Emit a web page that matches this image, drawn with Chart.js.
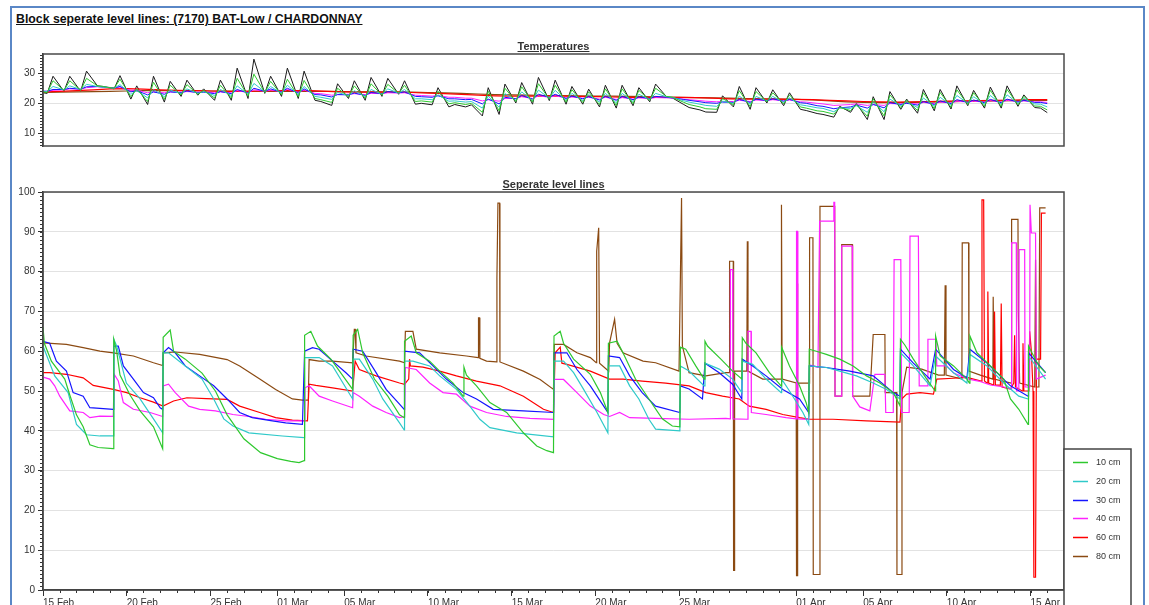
<!DOCTYPE html>
<html><head><meta charset="utf-8">
<script src="https://cdn.jsdelivr.net/npm/chart.js@4.4.1/dist/chart.umd.min.js"></script>
<style>
html,body{margin:0;padding:0;background:#fff;width:1149px;height:605px;overflow:hidden;font-family:"Liberation Sans",Arial,sans-serif;}
#frame{position:absolute;left:10px;top:6px;width:1135px;height:700px;border:2px solid #5a87c6;box-sizing:border-box;}
.ttl{position:absolute;font-weight:bold;text-decoration:underline;color:#111;z-index:3;white-space:nowrap;}
#mainTitle{left:16px;top:12px;font-size:12.3px;line-height:14px;}
#tTitle{left:43px;width:1021px;top:40px;text-align:center;font-size:11px;line-height:12px;color:#333;}
#lTitle{left:43px;width:1021px;top:178px;text-align:center;font-size:11px;line-height:12px;color:#333;}
canvas{position:absolute;left:0;}
#tempCanvas{top:40px;}
#levelCanvas{top:180px;}
</style></head>
<body>
<div id="frame"></div>
<canvas id="tempCanvas" width="1149" height="150"></canvas>
<canvas id="levelCanvas" width="1149" height="440"></canvas>
<div id="mainTitle" class="ttl">Block seperate level lines: (7170) BAT-Low / CHARDONNAY</div>
<div id="tTitle" class="ttl">Temperatures</div>
<div id="lTitle" class="ttl">Seperate level lines</div>
<script>
// ---- x axis (days since 15 Feb) ----
const tickDays = [0, 5, 10, 14, 18, 23, 28, 33, 38, 45, 49, 54, 59];
const tickLabels = ['15 Feb','20 Feb','25 Feb','01 Mar','05 Mar','10 Mar','15 Mar','20 Mar','25 Mar','01 Apr','05 Apr','10 Apr','15 Apr'];
const seriesNames = ['10 cm','20 cm','30 cm','40 cm','60 cm','80 cm'];
const seriesColors = ['#2ec82e','#2fc9c9','#1515ff','#ff22ff','#ff0000','#8b4a12'];
const tempTicks = [10, 20, 30];
const levelTicks = [0,10,20,30,40,50,60,70,80,90,100];

// ---- Temperatures: start, then (morning low, afternoon high) per day, then end ----
const tempAir = [23.5,
 23.3,29.0, 24.0,29.0, 24.0,30.7, 25.8,25.6, 24.8,29.2, 21.4,25.8, 19.6,29.0, 20.4,27.3, 22.3,27.7, 22.7,24.8,
 21.0,27.7, 21.0,31.7, 21.6,34.7, 23.3,29.0, 22.3,31.7, 21.6,30.7, 21.0,20.6, 19.3,26.5, 21.6,27.5, 21.0,28.6,
 22.3,28.3, 23.0,27.5, 19.7,20.0, 19.5,25.2, 18.8,19.6, 18.8,19.5, 15.8,25.2, 16.3,26.4, 20.1,26.9, 19.7,28.6,
 20.9,27.7, 19.7,25.6, 19.7,24.7, 18.8,26.0, 18.4,26.0, 19.2,25.2, 20.5,26.4, 22.2,21.8, 19.7,18.6, 17.8,17.1,
 17.0,22.5, 18.8,25.6, 18.0,25.2, 20.1,24.5, 19.2,23.5, 18.0,17.6, 16.6,16.3, 15.4,19.0, 17.0,20.0, 14.6,22.2,
 14.6,23.9, 18.0,21.4, 16.7,24.6, 17.5,24.6, 18.1,25.8, 19.2,24.3, 18.4,25.4, 18.4,25.8, 19.0,22.8, 18.6,18.4,
 16.9];
const temp10 = [23.8,
 23.6,27.5, 24.3,27.5, 24.3,28.3, 25.8,25.6, 25.0,28.0, 22.2,24.8, 20.6,27.0, 21.3,26.0, 22.8,26.2, 23.0,24.3,
 21.8,26.0, 21.8,28.3, 22.4,29.7, 23.6,27.3, 22.8,28.0, 22.2,27.6, 21.6,21.2, 20.3,25.0, 22.2,25.8, 21.7,26.5,
 22.7,26.3, 23.3,26.0, 20.6,20.8, 20.4,24.0, 19.8,20.2, 19.6,20.0, 17.0,24.0, 17.5,25.0, 20.6,25.5, 20.4,26.5,
 21.4,26.0, 20.4,24.5, 20.3,23.8, 19.6,24.8, 19.3,24.8, 19.9,24.3, 21.0,25.0, 22.3,22.0, 20.4,19.6, 18.8,18.2,
 18.0,21.6, 19.5,24.2, 18.9,23.9, 20.5,23.5, 19.8,22.8, 18.8,18.4, 17.5,17.3, 16.4,18.6, 17.6,19.6, 15.7,21.5,
 15.8,22.8, 18.6,21.0, 17.6,23.5, 18.2,23.6, 18.7,24.5, 19.6,23.5, 19.0,24.3, 19.0,24.6, 19.5,22.3, 19.1,19.0,
 17.8];
const temp20 = [24.0,
 23.9,25.6, 24.5,25.8, 24.6,26.3, 25.6,25.4, 25.0,26.2, 23.0,24.2, 21.8,24.6, 22.2,24.4, 23.2,24.8, 23.3,23.9,
 22.6,24.6, 22.6,25.8, 23.0,26.6, 23.9,25.6, 23.3,26.0, 22.9,25.6, 22.3,22.0, 21.3,23.6, 22.6,24.2, 22.3,24.6,
 23.0,24.8, 23.4,24.6, 21.5,21.5, 21.2,22.8, 20.7,20.8, 20.4,20.6, 18.4,22.4, 18.7,23.2, 21.0,23.8, 20.9,24.4,
 21.7,24.3, 21.0,23.3, 20.9,22.9, 20.4,23.3, 20.2,23.3, 20.6,23.0, 21.3,23.3, 22.2,22.0, 20.9,20.4, 19.7,19.3,
 19.0,20.7, 20.0,22.4, 19.7,22.3, 20.8,22.3, 20.3,21.8, 19.5,19.2, 18.5,18.3, 17.2,18.5, 18.3,19.2, 17.0,20.5,
 17.2,21.4, 19.2,20.5, 18.6,21.8, 19.0,22.0, 19.4,22.6, 20.0,22.2, 19.7,22.6, 19.7,22.8, 20.0,21.6, 19.8,19.7,
 18.8];
const temp30 = [24.0,
 24.0,24.6, 24.6,25.0, 24.7,25.5, 25.6,25.4, 25.1,25.6, 23.8,24.2, 22.8,23.8, 23.0,23.8, 23.5,24.1, 23.5,23.7,
 23.2,23.9, 23.2,24.6, 23.4,25.0, 24.0,24.8, 23.7,25.0, 23.4,24.8, 22.9,22.8, 22.1,22.9, 22.8,23.4, 22.6,23.6,
 23.2,23.9, 23.5,23.8, 22.3,22.2, 22.0,22.5, 21.5,21.5, 21.2,21.3, 19.8,21.4, 19.8,22.0, 21.5,22.6, 21.4,23.0,
 22.0,23.0, 21.6,22.4, 21.5,22.2, 21.1,22.3, 21.0,22.3, 21.2,22.1, 21.6,22.3, 22.0,21.8, 21.3,21.0, 20.5,20.2,
 20.0,20.4, 20.3,21.3, 20.3,21.4, 20.9,21.5, 20.7,21.3, 20.2,20.0, 19.2,19.0, 18.2,18.5, 18.8,19.4, 18.4,19.6,
 18.5,20.2, 19.6,20.0, 19.4,20.6, 19.6,20.8, 19.9,21.2, 20.3,21.1, 20.2,21.3, 20.2,21.4, 20.4,21.0, 20.3,20.3,
 19.9];
const temp40 = [24.0,
 24.0,24.3, 24.5,24.8, 24.7,25.2, 25.5,25.4, 25.2,25.4, 24.3,24.4, 23.5,23.8, 23.5,23.8, 23.7,23.9, 23.7,23.8,
 23.5,23.8, 23.5,24.2, 23.6,24.5, 24.0,24.4, 23.9,24.6, 23.7,24.4, 23.3,23.2, 22.7,22.9, 23.0,23.2, 22.9,23.3,
 23.2,23.5, 23.4,23.5, 22.7,22.6, 22.4,22.6, 22.0,22.0, 21.7,21.7, 20.8,21.2, 20.7,21.6, 21.6,22.2, 21.6,22.5,
 22.0,22.5, 21.8,22.1, 21.7,22.0, 21.4,22.0, 21.3,21.9, 21.4,21.8, 21.6,21.9, 21.8,21.7, 21.4,21.2, 20.9,20.7,
 20.5,20.6, 20.6,21.0, 20.6,21.1, 20.9,21.2, 20.8,21.1, 20.5,20.4, 20.0,19.8, 19.3,19.4, 19.6,19.8, 19.3,19.6,
 19.3,19.9, 19.8,20.0, 19.8,20.3, 19.9,20.4, 20.1,20.7, 20.4,20.7, 20.4,20.9, 20.4,21.0, 20.6,20.8, 20.5,20.5,
 20.3];
// daily values
const temp60 = [23.8,24.0,24.2,24.5,24.8,24.9,24.7,24.5,24.3,24.2,
 24.1,24.0,24.0,24.1,24.2,24.2,24.2,24.0,23.8,23.7,
 23.7,23.7,23.6,23.4,23.2,23.0,22.7,22.5,22.4,22.4,
 22.5,22.4,22.3,22.2,22.1,22.0,22.0,22.0,22.0,21.9,
 21.7,21.5,21.4,21.4,21.4,21.3,21.2,21.0,20.8,20.6,
 20.5,20.4,20.5,20.6,20.7,20.8,20.9,21.0,21.1,21.2, 21.2];
const temp80 = [23.6,23.7,23.8,23.9,24.0,24.1,24.2,24.2,24.2,24.2,
 24.1,24.1,24.0,24.0,24.0,24.0,24.0,24.0,23.9,23.8,
 23.8,23.8,23.7,23.6,23.5,23.3,23.1,22.9,22.8,22.7,
 22.6,22.6,22.5,22.4,22.4,22.3,22.2,22.1,22.0,21.9,
 21.8,21.7,21.6,21.5,21.4,21.3,21.1,20.8,20.5,20.3,
 20.2,20.2,20.3,20.4,20.5,20.6,20.7,20.8,20.9,21.0, 21.0];

// ---- Level lines: [day, value] ----
const level10 = [[0,66],[0.08,62],[0.5,57.5],[1.3,53],[1.6,49],[2.0,44],[2.4,41],[2.8,36.5],[3.3,35.8],[4.2,35.5],[4.23,63],[4.4,60],[4.6,54],[5.2,49],[5.8,45],[6.6,41],[7.15,35.5],[7.18,63.5],[7.6,65.3],[7.8,60],[8.5,58],[9.5,54.5],[10.3,50],[11.0,44],[12.0,38],[13.0,34.5],[14.0,33],[14.8,32.3],[15.3,32],[15.6,32.5],[15.63,64],[16.0,65],[16.4,61.3],[17.2,58],[18.5,50.4],[18.53,64],[18.8,65.5],[19.1,59.6],[19.8,53],[20.6,48.7],[21.3,44],[21.58,43.3],[21.6,62.5],[22.0,63.8],[22.3,59.6],[23.1,57.5],[23.7,55],[24.5,52],[25.1,48.7],[25.15,56],[25.3,54],[25.9,51.3],[26.7,47.1],[27.7,44.6],[28.7,39.5],[29.5,36.2],[30.1,35],[30.5,34.5],[30.53,63.8],[30.9,65],[31.1,62],[31.7,58],[32.7,54.2],[33.3,49.6],[33.75,44.6],[33.78,62],[34.3,62.5],[34.65,59.6],[35.4,53],[36.2,48],[37.0,43],[37.6,41.2],[38.05,41],[38.08,61],[38.4,60.5],[39.0,56.3],[39.5,53],[39.55,62.5],[39.7,61.3],[40.5,58],[41.2,55],[41.75,53],[41.78,63.4],[42.0,62],[42.6,59.6],[43.4,54.6],[44.1,51.3],[44.13,61],[44.6,56.3],[45.2,51.3],[45.6,47],[45.75,44.5],[45.78,60.5],[46.2,60],[46.8,59.2],[47.6,58],[48.4,56.3],[49.2,53.8],[50.0,52],[50.8,49.6],[51.2,46.3],[51.23,63],[51.5,61.5],[52.0,58],[52.8,53],[53.3,50],[53.33,63.8],[53.6,58.8],[54.4,56.3],[55.2,53],[55.35,52],[55.38,63.8],[55.8,59.6],[56.6,56.3],[57.4,53],[57.8,48],[58.3,45.4],[58.85,41.6],[58.88,61.3],[59.1,59.5],[59.5,56.3],[59.9,54.6]];
const level20 = [[0,61.3],[0.7,53.8],[1.5,49.6],[2.0,41.6],[2.6,39],[3.4,38.7],[4.2,38.7],[4.23,63],[4.4,61.3],[4.98,52],[5.8,48],[6.6,43],[7.15,39.5],[7.18,59.6],[7.5,59.6],[8.5,56.3],[9.5,53],[10.2,48],[10.8,43],[11.35,41.2],[12.3,39.5],[14.3,38.7],[15.6,38.3],[15.63,58.4],[16.5,58.4],[17.3,56.3],[18.5,48],[18.53,58],[18.9,58],[19.7,53],[20.3,48],[21.3,42],[21.58,40.2],[21.6,57.5],[22.1,57.5],[23.1,56.3],[23.7,53.8],[24.7,50.4],[25.5,46.2],[26.1,42.9],[26.7,40.8],[28.3,39.5],[30.5,38.5],[30.53,57.5],[31.1,57.5],[31.7,54.6],[32.3,50.4],[33.1,44.6],[33.75,39.5],[33.78,56.3],[34.45,56.3],[35.05,51.3],[35.6,48],[36.2,42.9],[36.6,40.4],[38.05,40],[38.08,56.3],[38.6,55],[39.5,51.3],[39.55,57],[40.4,55.5],[41.2,53],[41.75,49.6],[41.78,57.5],[42.4,56.7],[43.2,53],[44.1,49.6],[44.13,53],[44.6,50],[45.4,44.6],[45.75,41.6],[45.78,56.3],[46.8,55.9],[47.6,55],[48.6,53.8],[49.6,52],[50.4,50.4],[51.2,48],[51.23,59.6],[52.0,56.3],[53.0,51.3],[53.33,58.8],[54.4,54.6],[55.2,52],[55.38,59.2],[56.4,56.3],[57.4,52],[58.3,48.7],[58.85,48],[58.88,58.8],[59.9,53]];
const level30 = [[0,62.5],[0.4,62],[0.8,57.5],[1.4,55],[1.8,49.6],[2.4,48.7],[2.8,45.8],[4.2,45.4],[4.23,61.3],[4.5,61.3],[4.8,56.3],[5.4,53],[6.0,49.6],[6.6,48.3],[7.0,45.8],[7.15,45.4],[7.18,59.6],[7.5,60.9],[7.9,59.6],[8.5,56.3],[9.36,53.8],[10.2,51.3],[11.0,48],[11.75,44.6],[12.5,43.3],[13.7,42.5],[14.5,42],[15.5,41.6],[15.63,60],[16.1,60.9],[16.5,60.5],[17.3,57.5],[18.1,54.6],[18.5,53],[18.53,60.5],[19.1,60],[19.9,54.6],[20.5,50.4],[21.3,46.7],[21.58,45.4],[21.6,60],[22.5,59.6],[23.3,56.3],[24.1,53],[25.1,49.6],[25.9,48],[26.9,45.4],[28.7,45],[30.5,44.6],[30.53,59.6],[31.3,59.6],[31.9,55.4],[32.7,51.3],[33.5,46.2],[33.75,44.6],[33.78,58.8],[34.45,58.4],[35.05,53.8],[35.8,49.6],[36.6,46.2],[38.05,44.6],[38.08,51.3],[38.6,50.5],[39.4,48],[39.55,57],[40.4,54.6],[41.2,51.7],[41.75,48],[41.78,58],[42.4,56.3],[43.2,53.8],[44.2,50.4],[45.2,48],[45.75,44.6],[45.78,56.3],[46.8,55.9],[48.2,55],[49.6,53.8],[50.8,49.6],[51.2,48.7],[51.23,60.5],[52.0,57],[53.0,53],[53.33,60.5],[54.4,55.4],[55.2,53.3],[55.38,60.5],[56.4,57],[57.8,51.3],[58.85,48.7],[58.88,59.6],[59.9,54.6]];
const level40 = [[0,53.5],[0.4,53],[0.7,51.3],[1.0,48.7],[1.6,45],[2.4,44.6],[2.8,43.3],[3.4,43.7],[4.2,43.6],[4.25,54.2],[4.5,52.5],[4.8,47.1],[5.4,45.4],[6.4,44.6],[7.15,43.6],[7.18,51.3],[7.5,51.7],[7.9,49.6],[8.7,46.2],[9.36,45.4],[10.3,45],[11.35,44.1],[12.3,43.6],[13.3,42.9],[14.5,42.5],[15.6,42.5],[15.65,50.8],[15.9,51.3],[16.5,48.7],[17.3,47.5],[18.5,45.8],[18.53,49.6],[18.9,48.7],[19.7,46.2],[20.5,44.6],[21.3,43.3],[21.6,43.6],[21.65,55.9],[22.3,55.4],[23.1,52],[23.9,49.6],[24.7,49.2],[25.5,46.2],[26.5,44.6],[27.7,43.6],[29.1,43.1],[30.5,42.9],[30.55,52.9],[31.1,52.9],[31.9,49.6],[32.7,46.2],[33.5,44.1],[33.85,43.6],[34.45,44.6],[35.05,43.3],[36.6,43.1],[38.6,42.9],[40.8,43.1],[41.05,43],[41.07,80.5],[41.2,80.5],[41.22,43],[42.1,42.9],[42.12,65],[42.3,65],[42.32,44.6],[43.2,44.1],[44.4,43.3],[45.0,43],[45.02,90.1],[45.08,90.1],[45.1,43],[45.75,42.9],[45.8,56.5],[46.3,56],[46.4,92.7],[47.2,92.7],[47.25,97.4],[47.3,97.4],[47.32,48.7],[47.7,48.7],[47.72,86.4],[48.35,86.4],[48.37,48.7],[48.8,46],[49.4,45],[49.7,54.2],[50.3,54.2],[50.35,44.6],[50.8,44.6],[50.85,83],[51.25,83],[51.3,44.6],[51.75,44.6],[51.8,88.9],[52.3,88.9],[52.35,51.3],[52.85,51.3],[52.87,63],[53.35,63],[53.4,56.3],[54.0,56.3],[54.4,54.5],[55.3,53],[55.9,52.5],[56.6,51.5],[57.4,51],[57.85,50.5],[57.87,87.2],[58.15,87.2],[58.17,50],[58.3,50],[58.32,85.5],[58.65,85.5],[58.67,51],[58.95,51],[58.97,96.8],[59.02,96.8],[59.05,89.7],[59.3,89.7],[59.35,53],[59.9,54]];
const level60 = [[0,54.6],[0.4,54.6],[1.4,54.2],[2.4,53.3],[3.0,51.4],[4.2,50.4],[5.0,49.6],[5.8,48.3],[6.6,47.2],[7.17,46.2],[7.8,47.5],[8.6,48.3],[9.75,48.1],[11.0,47.9],[11.75,46.2],[12.95,44.6],[13.9,43.3],[14.9,42.7],[15.8,42.5],[15.9,51.7],[16.3,51.4],[17.3,50.8],[18.5,50],[18.65,57.5],[18.9,55.4],[19.9,53.8],[21.3,52],[21.6,51.7],[21.85,53],[21.9,58],[21.95,56.3],[22.7,56],[23.7,55],[24.7,53.8],[25.9,52.5],[27.3,51.3],[28.7,48.7],[29.9,45.4],[30.5,44.6],[30.6,59.6],[30.9,61],[31.0,57],[31.3,56.7],[32.7,55],[33.85,53],[34.65,53],[35.8,52.5],[37.2,52],[38.6,51.3],[39.6,49.6],[40.6,48.7],[41.6,48],[42.2,46.2],[43.2,45.4],[44.2,44.1],[45.2,43.3],[45.8,42.9],[47.2,42.9],[49.2,42.5],[51.2,42.2],[51.3,48],[51.6,49.2],[52.4,49.6],[53.2,49.2],[53.4,53],[54.4,53.2],[55.2,53.4],[56.05,52.5],[56.1,98],[56.2,98],[56.25,52.5],[56.4,52],[56.45,75],[56.5,52],[56.8,51.5],[56.85,70],[56.9,51.5],[57.2,51.5],[57.25,72],[57.3,51],[57.8,50.5],[58.0,52],[58.05,64],[58.1,51],[58.5,50],[58.55,62],[58.6,50],[58.9,50],[58.95,65],[59.05,60],[59.15,50],[59.2,3.2],[59.3,3.2],[59.35,58],[59.6,58],[59.65,94.7],[59.9,94.7]];
const level80 = [[0,62.1],[1.4,61.7],[2.4,60.9],[3.4,60],[4.2,59.6],[5.4,58.8],[6.6,57.1],[7.15,56.4],[7.18,59.6],[7.9,59.8],[9.36,59.2],[11.0,57.9],[11.75,56.3],[12.95,53],[13.9,50.4],[14.9,48],[15.5,47.7],[15.85,47.7],[15.9,57.9],[16.5,57.5],[17.3,57.5],[18.5,57.1],[18.6,65.5],[18.65,65.5],[18.7,59.6],[19.3,58.8],[21.3,57.5],[21.6,57.1],[21.65,65],[22.1,65],[22.3,60.5],[23.7,59.6],[25.3,58.8],[26.0,58.4],[26.02,68.4],[26.08,68.4],[26.1,58.2],[26.5,57.5],[27.1,57.3],[27.12,78.4],[27.18,97.2],[27.28,97.2],[27.3,57.3],[28.7,55],[29.7,52.9],[30.5,50.4],[30.55,61.7],[31.1,61.7],[31.9,59.6],[32.7,58.4],[33.05,57.1],[33.08,85.1],[33.2,91],[33.25,57],[33.8,55],[33.85,62.1],[34.15,68],[34.3,62],[34.65,59.6],[35.85,57.5],[36.6,57.1],[38.0,55],[38.15,98.5],[38.2,61.3],[38.6,54.6],[39.6,53.8],[40.8,54.6],[41.0,54.6],[41.02,82.6],[41.24,82.6],[41.26,4.9],[41.3,4.9],[41.32,55],[42.05,55],[42.08,87.6],[42.12,55],[43.0,53],[44.1,53],[44.12,96.8],[44.16,53],[45.0,52],[45.02,3.6],[45.05,3.6],[45.07,77],[45.1,52],[45.78,52],[45.8,88.5],[46.0,88.5],[46.02,3.9],[46.4,3.9],[46.42,96.4],[47.3,96.4],[47.32,48.7],[47.7,48.7],[47.72,86.8],[48.35,86.8],[48.37,48.7],[49.4,48.7],[49.6,64.2],[50.3,64.2],[50.32,49.6],[51.0,49.6],[51.02,3.9],[51.3,3.9],[51.32,49.6],[51.6,56],[52.5,55.5],[53.5,54],[53.85,54],[53.9,76.6],[53.95,54],[54.9,53],[54.92,87.2],[55.3,87.2],[55.32,55],[56.0,54],[56.75,53],[56.77,73.7],[56.82,53],[57.85,52],[57.87,93.1],[58.25,93.1],[58.27,70],[58.35,52],[59.25,51],[59.3,83],[59.35,51],[59.5,51],[59.55,96],[59.9,96]];

// ---- helpers ----
const halfDayTimes = [0];
for (let d = 0; d < 60; d++) halfDayTimes.push(d + 0.25, d + 0.6);
halfDayTimes.push(60);
const dayTimes = [];
for (let d = 0; d <= 60; d++) dayTimes.push(d);
const toPts = (times, vals) => vals.map((v, i) => ({x: times[i], y: v}));
const fromPairs = arr => arr.map(([x, y]) => ({x, y}));
const FONT = '"Liberation Sans", Arial, sans-serif';

const framePlugin = {
  id: 'frame',
  afterDraw(chart, args, opts) {
    const {ctx, chartArea: a, scales} = chart;
    ctx.save();
    ctx.strokeStyle = '#333';
    ctx.lineWidth = 1;
    ctx.beginPath();
    const ys = scales.y;
    for (let v = Math.ceil(ys.min); v <= ys.max; v += 1) {
      const p = Math.round(ys.getPixelForValue(v)) + 0.5;
      ctx.moveTo(a.left - 3, p); ctx.lineTo(a.left, p);
    }
    if (opts.xMinor) {
      const xs = scales.x;
      for (let d = 0; d <= xs.max; d++) {
        const p = Math.round(xs.getPixelForValue(d)) + 0.5;
        ctx.moveTo(p, a.bottom); ctx.lineTo(p, a.bottom + 3);
      }
    }
    ctx.stroke();
    ctx.strokeStyle = '#4a4a4a';
    ctx.lineWidth = 1.5;
    ctx.strokeRect(Math.round(a.left), Math.round(a.top), Math.round(a.right - a.left), Math.round(a.bottom - a.top));
    ctx.restore();
  }
};

const legendBox = {
  id: 'legendBox',
  afterDraw(chart) {
    const {ctx, chartArea: a} = chart;
    const left = Math.round(a.right), top = 269, right = left + 67, bottom = chart.height;
    ctx.save();
    ctx.fillStyle = '#fff';
    ctx.fillRect(left, top, right - left, bottom - top);
    ctx.strokeStyle = '#444';
    ctx.lineWidth = 1.5;
    ctx.beginPath();
    ctx.moveTo(left, bottom); ctx.lineTo(left, top); ctx.lineTo(right, top); ctx.lineTo(right, bottom);
    ctx.stroke();
    ctx.font = '9px ' + FONT;
    ctx.textBaseline = 'middle';
    ctx.textAlign = 'left';
    chart.data.datasets.forEach((ds, i) => {
      const y = Math.round(top + 12.7 + i * 18.9) + 0.5;
      ctx.strokeStyle = ds.borderColor;
      ctx.lineWidth = 1.5;
      ctx.beginPath(); ctx.moveTo(left + 9, y); ctx.lineTo(left + 24, y); ctx.stroke();
      ctx.fillStyle = '#333';
      ctx.fillText(ds.label, left + 32, y);
    });
    ctx.restore();
  }
};

function makeOptions(yMin, yMax, yTicks, showX, padding) {
  return {
    responsive: false,
    animation: false,
    events: [],
    layout: {padding},
    plugins: {legend: {display: false}, tooltip: {enabled: false}, title: {display: false}, frame: {xMinor: showX}},
    elements: {point: {radius: 0}, line: {borderWidth: 1.2, tension: 0}},
    scales: {
      x: {
        type: 'linear', min: 0, max: 61, display: showX,
        afterBuildTicks: s => { s.ticks = tickDays.map(v => ({value: v})); },
        afterFit: s => { s.height = 30; },
        grid: {drawOnChartArea: false, drawTicks: true, tickLength: 6, color: '#333', tickColor: '#333'},
        border: {color: '#333', width: 1.5},
        ticks: {align: 'start', autoSkip: false, maxRotation: 0, padding: 1, color: '#333',
          font: {size: 10, family: FONT},
          callback: v => { const i = tickDays.indexOf(v); return i >= 0 ? tickLabels[i] : ''; }}
      },
      y: {
        type: 'linear', min: yMin, max: yMax,
        afterBuildTicks: s => { s.ticks = yTicks.map(v => ({value: v})); },
        afterFit: s => { s.width = 43; },
        grid: {color: '#e2e2e2', tickColor: '#333', tickLength: 5, lineWidth: 1},
        border: {color: '#333', width: 1.5},
        ticks: {padding: 3, color: '#333', font: {size: 10, family: FONT}}
      }
    }
  };
}

const ds = (label, color, data, width) => ({label, data, borderColor: color, backgroundColor: color, borderWidth: width || 1.2, pointRadius: 0, fill: false});

new Chart(document.getElementById('tempCanvas'), {
  type: 'line',
  data: {datasets: [
    ds('10 cm', seriesColors[0], toPts(halfDayTimes, temp10), 1),
    ds('20 cm', seriesColors[1], toPts(halfDayTimes, temp20), 1),
    ds('30 cm', seriesColors[2], toPts(halfDayTimes, temp30), 1),
    ds('40 cm', seriesColors[3], toPts(halfDayTimes, temp40), 1),
    ds('60 cm', seriesColors[4], toPts(dayTimes, temp60), 1.2),
    ds('80 cm', seriesColors[5], toPts(dayTimes, temp80), 1.2),
    ds('Air', '#1a1a1a', toPts(halfDayTimes, tempAir), 1)
  ]},
  options: makeOptions(5.8, 36.4, tempTicks, false, {top: 14, bottom: 14, left: 0, right: 85}),
  plugins: [framePlugin]
});

new Chart(document.getElementById('levelCanvas'), {
  type: 'line',
  data: {datasets: [
    ds(seriesNames[0], seriesColors[0], fromPairs(level10)),
    ds(seriesNames[1], seriesColors[1], fromPairs(level20)),
    ds(seriesNames[2], seriesColors[2], fromPairs(level30)),
    ds(seriesNames[3], seriesColors[3], fromPairs(level40)),
    ds(seriesNames[4], seriesColors[4], fromPairs(level60)),
    ds(seriesNames[5], seriesColors[5], fromPairs(level80))
  ]},
  options: makeOptions(0, 100, levelTicks, true, {top: 12, bottom: 0, left: 0, right: 85}),
  plugins: [framePlugin, legendBox]
});
</script>
</body></html>
